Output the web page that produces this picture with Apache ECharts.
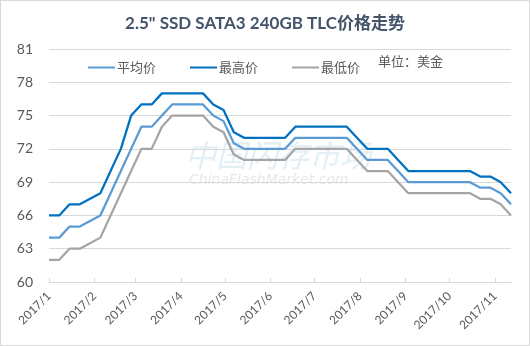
<!DOCTYPE html>
<html>
<head>
<meta charset="utf-8">
<script src="https://cdn.jsdelivr.net/npm/echarts@6/dist/echarts.min.js"></script>
<style>
html,body{margin:0;padding:0;background:#fff;}
#c{width:530px;height:346px;box-sizing:border-box;border:1px solid #d9d9d9;}
</style>
</head>
<body>
<div id="c"></div>
<script>
const title = '2.5" SSD SATA3 240GB TLC价格走势';
const seriesNames = ['平均价', '最高价', '最低价'];
const unitText = '单位：美金';
const dates = [
  '2017-01-01','2017-01-08','2017-01-15','2017-01-22','2017-01-29',
  '2017-02-05','2017-02-12','2017-02-19','2017-02-26',
  '2017-03-05','2017-03-12','2017-03-19','2017-03-26',
  '2017-04-02','2017-04-09','2017-04-16','2017-04-23','2017-04-30',
  '2017-05-07','2017-05-14','2017-05-21','2017-05-28',
  '2017-06-04','2017-06-11','2017-06-18','2017-06-25',
  '2017-07-02','2017-07-09','2017-07-16','2017-07-23','2017-07-30',
  '2017-08-06','2017-08-13','2017-08-20','2017-08-27',
  '2017-09-03','2017-09-10','2017-09-17','2017-09-24',
  '2017-10-01','2017-10-08','2017-10-15','2017-10-22','2017-10-29',
  '2017-11-05','2017-11-12'
];
const avgPrice = [64,64,65,65,65.5,66,68,70,72,74,74,75,76,76,76,76,75,74.5,72.5,72,72,72,72,72,73,73,73,73,73,73,72,71,71,71,70,69,69,69,69,69,69,69,68.5,68.5,68,67];
const highPrice = [66,66,67,67,67.5,68,70,72,75,76,76,77,77,77,77,77,76,75.5,73.5,73,73,73,73,73,74,74,74,74,74,74,73,72,72,72,71,70,70,70,70,70,70,70,69.5,69.5,69,68];
const lowPrice = [62,62,63,63,63.5,64,66,68,70,72,72,74,75,75,75,75,74,73.5,71.5,71,71,71,71,71,72,72,72,72,72,72,71,70,70,70,69,68,68,68,68,68,68,68,67.5,67.5,67,66];
const yMin = 60, yMax = 81, yStep = 3;
const watermarkCn = '中国闪存市场';
const watermarkEn = 'ChinaFlashMarket.com';

const font = "Lato, 'Noto Sans CJK SC', sans-serif";
const colors = ['#5b9bd5', '#0070c0', '#a5a5a5'];
const allValues = [avgPrice, highPrice, lowPrice];

const chart = echarts.init(document.getElementById('c'), null, {renderer: 'canvas'});
chart.setOption({
  animation: false,
  textStyle: {fontFamily: font},
  title: {
    text: title, left: 'center', top: 9,
    textStyle: {fontSize: 17, fontWeight: 'bold', color: '#44546a', fontFamily: font}
  },
  legend: {
    data: seriesNames, left: 82, top: 55, itemGap: 34,
    icon: 'rect', itemWidth: 27, itemHeight: 2,
    textStyle: {fontSize: 13, color: '#595959', fontFamily: font, padding: [0, 0, 0, -3]}
  },
  graphic: [
    {type: 'text', left: 377, top: 54, silent: true,
     style: {text: unitText, fontSize: 13, fill: '#595959', fontFamily: font}},
    {type: 'text', left: 184, top: 139, silent: true, z: -1,
     style: {text: watermarkCn, fontSize: 31, fontStyle: 'italic', fill: 'rgba(140,190,215,0.25)', fontFamily: "'Noto Sans CJK SC', sans-serif"}},
    {type: 'text', left: 188, top: 172, silent: true, z: -1,
     style: {text: watermarkEn, fontSize: 14, fontStyle: 'italic', letterSpacing: 1.5, fill: 'rgba(150,165,175,0.25)', fontFamily: "'DejaVu Sans', sans-serif"}}
  ],
  grid: {left: 48, right: 18, top: 48, bottom: 63, containLabel: false},
  xAxis: {
    type: 'time',
    min: dates[0], max: dates[dates.length - 1],
    minInterval: 28 * 86400000, maxInterval: 31 * 86400000,
    splitNumber: 11,
    axisLine: {lineStyle: {color: '#d9d9d9', width: 1}},
    axisTick: {show: true, inside: true, length: 4, lineStyle: {color: '#d9d9d9'}},
    splitLine: {show: false},
    axisLabel: {
      formatter: '{yyyy}/{M}', rotate: 45, fontSize: 12, color: '#595959',
      margin: 12, showMinLabel: true, showMaxLabel: false, fontFamily: font,
      hideOverlap: false
    }
  },
  yAxis: {
    type: 'value', min: yMin, max: yMax, interval: yStep,
    axisLine: {show: false}, axisTick: {show: false},
    splitLine: {lineStyle: {color: '#d9d9d9', width: 1}},
    axisLabel: {fontSize: 14, color: '#595959', margin: 16, fontFamily: font}
  },
  series: seriesNames.map((n, i) => ({
    name: n, type: 'line', showSymbol: false, symbol: 'none',
    data: dates.map((d, j) => [d, allValues[i][j]]),
    lineStyle: {color: colors[i], width: 2.25},
    itemStyle: {color: colors[i]},
    z: i === 1 ? 3 : 2
  }))
});
</script>
</body>
</html>
